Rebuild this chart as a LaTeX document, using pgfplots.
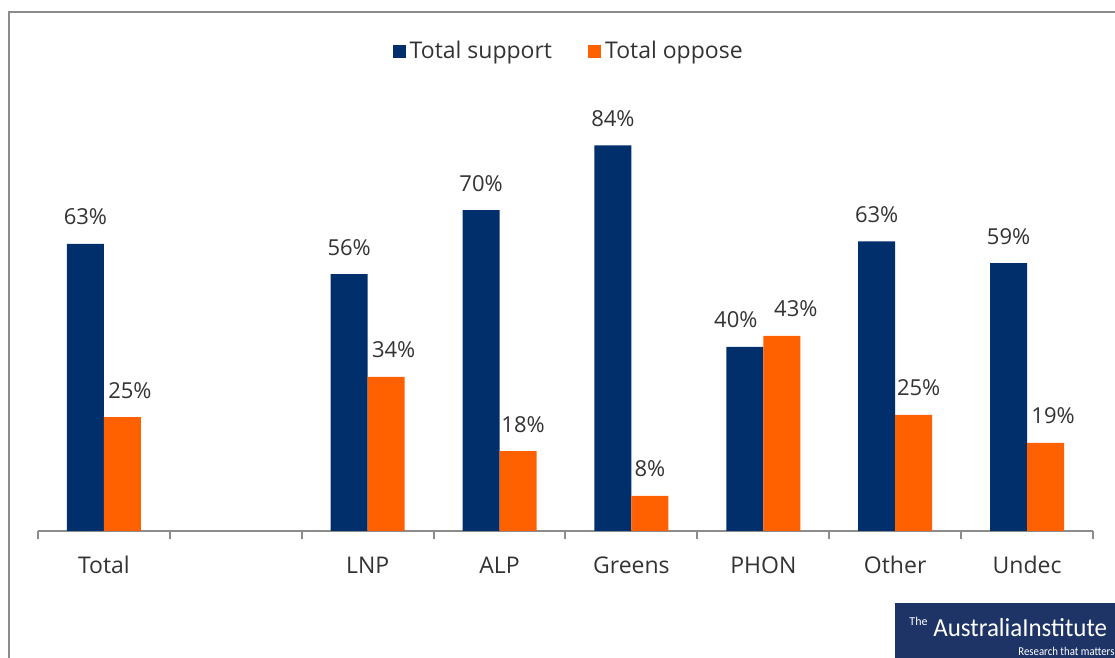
\documentclass[border=0pt]{standalone}
\usepackage{pgfplots}
\pgfplotsset{compat=1.18}
\usepackage{pgfplotstable}
\usepackage{fontspec}
\setmainfont{Open Sans}
\newfontfamily\logofont{Carlito}
\definecolor{navy}{RGB}{0,47,108}
\definecolor{orng}{RGB}{255,96,0}
\definecolor{txt}{RGB}{51,51,51}
\definecolor{axgray}{RGB}{140,140,140}
\definecolor{logo}{RGB}{31,52,102}

% x = category slot, y = share in %, dx = label nudge in pt
\pgfplotstableread{
x y dx
0 62.8 0
2 56.2 0
3 70.2 0
4 84.4 0
5 40.3 -4.5
6 63.4 0
7 58.6 0
}\support
\pgfplotstableread{
x y dx
0 24.9 3.75
2 33.7 3.75
3 17.5 2.5
4 7.7 0
5 42.7 7
6 25.4 2.5
7 19.3 3.75
}\oppose

\begin{document}
\begin{tikzpicture}[x=1pt,y=1pt]
\path[use as bounding box] (0,0) rectangle (557.5,329);
% outer chart frame (only left and top edges are visible)
\draw[axgray,line width=1pt] (4.25,0) -- (4.25,322.75) -- (560,322.75);

\begin{axis}[
  at={(19pt,63.5pt)}, anchor=south west,
  scale only axis,
  width=527.5pt, height=228.5pt,
  ybar=0pt, bar width=18.5pt,
  xmin=-0.5, xmax=7.5,
  ymin=0, ymax=100,
  axis x line*=bottom,
  axis y line=none,
  axis line style={axgray,line width=1pt,-},
  xtick={0,...,7},
  xticklabels={Total,,LNP,ALP,Greens,PHON,Other,Undec},
  major tick length=0pt,
  minor xtick={-0.5,0.5,...,7.5},
  minor tick length=4pt,
  xtick align=outside,
  tick style={axgray,line width=1pt},
  xticklabel style={font=\fontsize{11.5}{14}\selectfont,text=txt,anchor=base,yshift=-21.5pt},
  visualization depends on={\thisrow{dx}\as\dx},
  nodes near coords={\pgfmathprintnumber[fixed,precision=0]{\pgfplotspointmeta}\%},
  every node near coord/.append style={font=\fontsize{11}{13}\selectfont,text=txt,
    anchor=base,yshift=9.5pt,xshift=\dx pt},
  /pgf/number format/assume math mode=true,
  legend columns=2,
  legend style={at={(rel axis cs:0.504,1.05)},anchor=center,draw=none,fill=none,
    font=\fontsize{11.5}{14}\selectfont,text=txt,
    /tikz/every even column/.append style={column sep=16pt}},
  legend image code/.code={\path[#1,draw=none] (0pt,-3.25pt) rectangle (6.5pt,3.25pt);},
]
\addplot[fill=navy,draw=none] table[x=x,y=y] {\support};
\addplot[fill=orng,draw=none] table[x=x,y=y] {\oppose};
\legend{Total support,Total oppose}
\end{axis}

% logo box
\fill[logo] (447.5,0) rectangle (560,27.5);
\node[anchor=base west,inner sep=0,text=white,font=\logofont\fontsize{6}{7}\selectfont] at (454.5,16) {The};
\node[anchor=base west,inner sep=0,text=white,font=\logofont\fontsize{13}{15}\selectfont,xscale=0.96] at (466.5,10.5) {AustraliaInstitute};
\node[anchor=base west,inner sep=0,text=white,font=\logofont\fontsize{6}{7}\selectfont,xscale=0.9] at (509,1) {Research that matters};
\end{tikzpicture}
\end{document}
